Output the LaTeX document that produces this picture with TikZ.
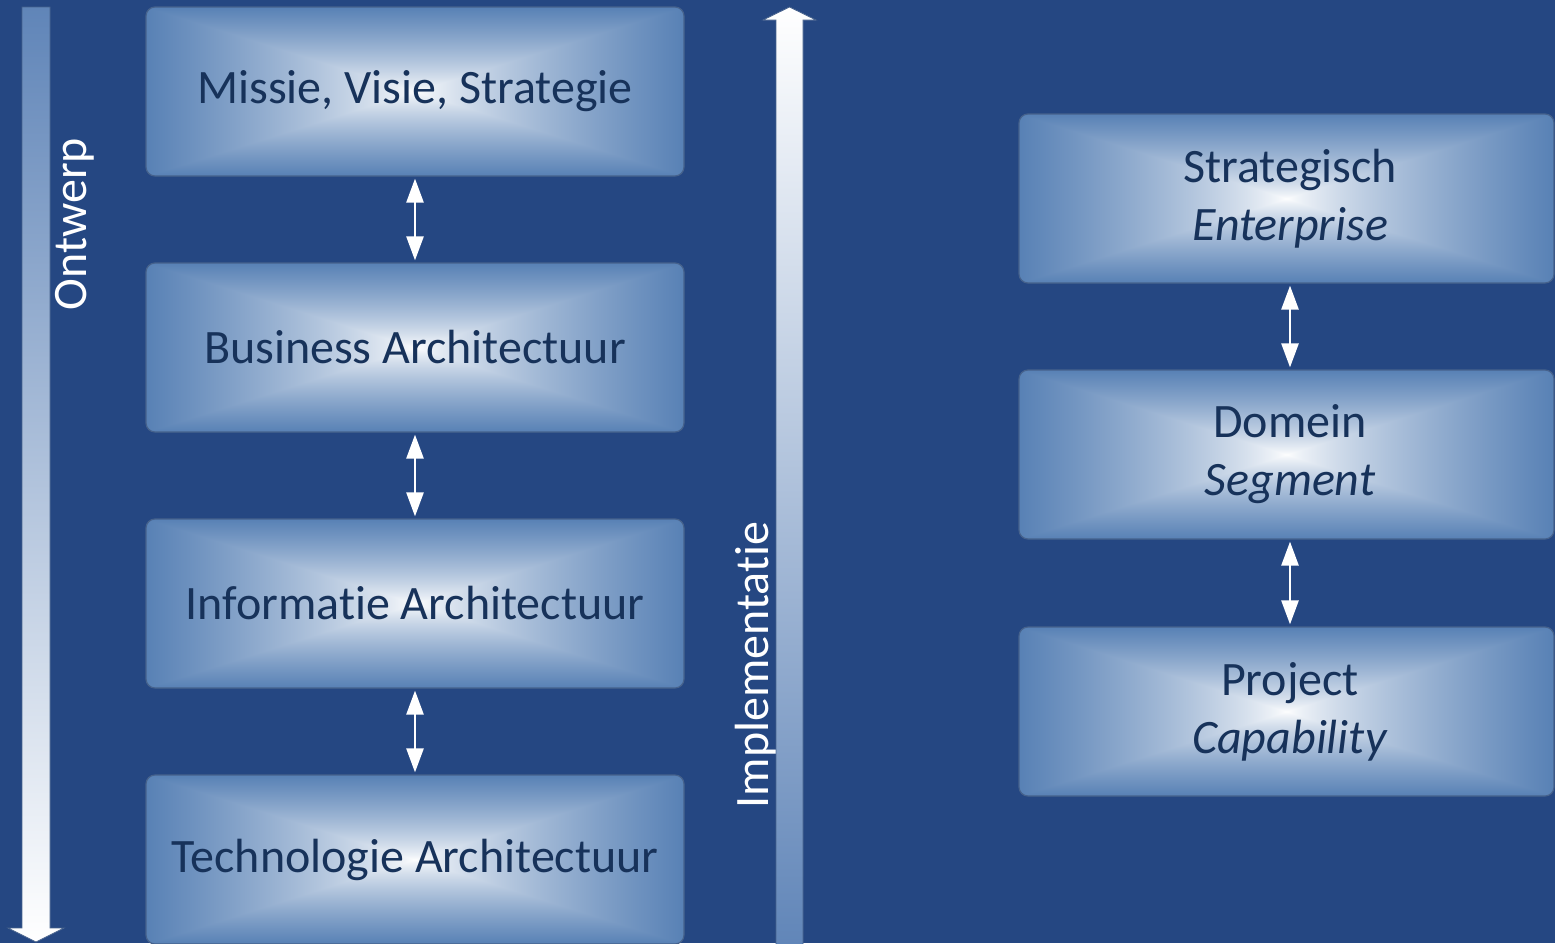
\documentclass[tikz,border=0pt]{standalone}
\usepackage{fontspec}
\setmainfont{Carlito}[Ligatures=NoCommon]
\usetikzlibrary{arrows.meta}
\definecolor{bgblue}{RGB}{37,71,130}
\definecolor{barblue}{RGB}{96,133,184}
\definecolor{txtblue}{RGB}{23,50,90}
\definecolor{edgeline}{RGB}{70,98,140}
\pgfdeclarefunctionalshading{rectgrad}{\pgfpoint{-50bp}{-50bp}}{\pgfpoint{50bp}{50bp}}{}{
  abs exch abs 2 copy lt {exch} if pop 25 div
  dup 1 gt {pop 1} if
  0.75 exp
  dup dup 0.655 mul 1 exch sub
  3 1 roll 0.494 mul 1 exch sub
  exch 0.290 mul 1 exch sub
}
\tikzset{
  layerbox/.style={draw=edgeline, line width=1.2pt, shading=rectgrad, rounded corners=9pt,
    minimum width=538pt, minimum height=169pt, inner sep=0pt, text=txtblue,
    font=\fontsize{48}{58}\selectfont, align=center},
  sidelabel/.style={text=white, rotate=90, font=\fontsize{48}{56}\selectfont, inner sep=0pt},
  dblarrow/.style={white, line width=2.6pt, {Triangle[length=24pt,width=17pt]}-{Triangle[length=24pt,width=17pt]}, shorten <=2pt, shorten >=2pt},
  bararrow/.style={draw=edgeline, line width=0.8pt}
}
\begin{document}
\begin{tikzpicture}[x=1pt,y=-1pt]
\useasboundingbox[fill=bgblue] (0,0) rectangle (1555,943);
% Ontwerp arrow (down)
\path[bararrow, top color=barblue, bottom color=white]
  (22,7) -- (50,7) -- (50,928) -- (64,928) -- (36,942) -- (8,928) -- (22,928) -- cycle;
\node[sidelabel] (ontwerp) at (75,224) {Ontwerp};
% Implementatie arrow (up)
\path[bararrow, top color=white, bottom color=barblue]
  (776,950) -- (776,20) -- (763,20) -- (789.5,7) -- (816,20) -- (803,20) -- (803,950) -- cycle;
\node[sidelabel] (impl) at (756,665) {Implementatie};
% Left boxes
\node[layerbox] (b1) at (415,91.5) {Missie, Visie, Strategie};
\node[layerbox] (b2) at (415,347.5) {Business Architectuur};
\node[layerbox] (b3) at (415,603.5) {Informatie Architectuur};
\node[layerbox] (b4) at (415,859.5) {Technologie Architectuur};
% Right boxes
\node[layerbox, minimum width=535pt] (r1) at (1286.5,198.5) {\hspace*{7pt}Strategisch\\\hspace*{7pt}\textit{Enterprise}};
\node[layerbox, minimum width=535pt] (r2) at (1286.5,454.5) {\hspace*{7pt}Domein\\\hspace*{7pt}\textit{Segment}};
\node[layerbox, minimum width=535pt] (r3) at (1286.5,711.5) {\hspace*{7pt}Project\\\hspace*{7pt}\textit{Capability}};
% Double arrows
\draw[dblarrow] (b1.south) -- (b2.north);
\draw[dblarrow] (b2.south) -- (b3.north);
\draw[dblarrow] (b3.south) -- (b4.north);
\draw[dblarrow] ([xshift=3.5pt]r1.south) -- ([xshift=3.5pt]r2.north);
\draw[dblarrow] ([xshift=3.5pt]r2.south) -- ([xshift=3.5pt]r3.north);
\end{tikzpicture}
\end{document}
